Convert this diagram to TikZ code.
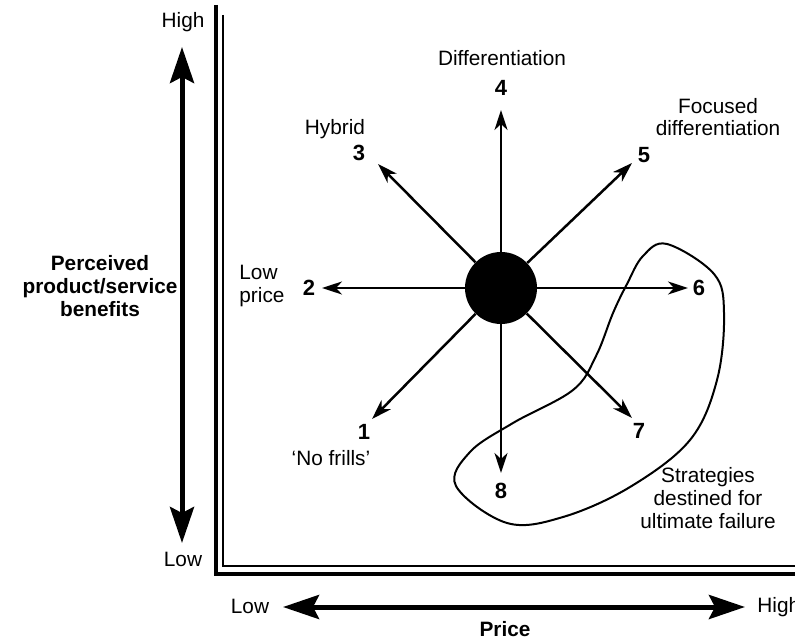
\documentclass[tikz,border=0pt]{standalone}
\usepackage{fontspec}
\setmainfont{Liberation Sans}
\usetikzlibrary{arrows.meta}
\begin{document}
\begin{tikzpicture}[x=0.5pt,y=-0.5pt,
 lbl/.style={font=\fontsize{10.4}{11.3}\selectfont, inner sep=0pt, align=center},
 blbl/.style={font=\fontsize{10.4}{11.3}\selectfont\bfseries, inner sep=0pt, align=center},
 num/.style={font=\fontsize{11}{13}\selectfont\bfseries, inner sep=0pt},
 ray/.style={line width=1.25pt, -{Stealth[length=10pt,width=6.5pt,inset=3pt]}},
 big/.style={line width=2.5pt, {Stealth[length=18pt,width=12pt,inset=3pt]}-{Stealth[length=18pt,width=12pt,inset=3pt]}},
 hub/.style={circle, fill=black, minimum size=36pt, inner sep=0pt},
 blob/.style={line width=1pt},
]
\useasboundingbox (0,0) rectangle (795,640);
% axes (double L)
\draw[line width=2pt] (216,5) -- (216,574) -- (800,574);
\draw[line width=1pt] (223,15) -- (223,566) -- (800,566);
% centre
\node[hub] (c) at (501,288) {};
% tips
\coordinate (t1) at (372,419);
\coordinate (t2) at (322,288);
\coordinate (t3) at (378,164);
\coordinate (t4) at (501,110);
\coordinate (t5) at (632,163);
\coordinate (t6) at (688,288);
\coordinate (t7) at (632,418);
\coordinate (t8) at (501,473);
\foreach \i in {1,...,8} \draw[ray] (c) -- (t\i);
% numbers
\node[num] (n1) at (364,432) {1};
\node[num] (n2) at (309,288) {2};
\node[num] (n3) at (359,153) {3};
\node[num] (n4) at (501,88) {4};
\node[num] (n5) at (644,155) {5};
\node[num] (n6) at (699,288) {6};
\node[num] (n7) at (639,431) {7};
\node[num] (n8) at (501,491) {8};
% labels
\node[lbl] (l1) at (331,458) {‘No frills’};
\node[lbl, align=left, anchor=west] (l2) at (239,286) {Low\\price};
\node[lbl] (l3) at (335,129) {Hybrid};
\node[lbl] (l4) at (502,58) {Differentiation};
\node[lbl] (l5) at (718,117) {Focused\\differentiation};
\node[lbl] (lf) at (708,498) {Strategies\\destined for\\ultimate failure};
% failure blob
\draw[blob] plot[smooth cycle, tension=0.6] coordinates {
 (667,244) (714,274) (724,313) (717,380) (690,440) (630,487) (563,517)
 (507,523) (456,486) (470,452) (513,423) (573,390) (596,356) (613,313)
 (627,284) (643,256)};
% vertical axis arrow
\node[lbl] (vh) at (183,22) {High};
\node[lbl] (vl) at (183,559) {Low};
\coordinate (va) at (182,47);
\coordinate (vb) at (182,543);
\draw[big] (va) -- (vb);
\node[blbl] (vt) at (100,286) {Perceived\\product/service\\benefits};
% horizontal axis arrow
\node[lbl] (hl) at (250,606) {Low};
\node[lbl, anchor=west] (hh) at (757,607) {High};
\coordinate (ha) at (283,607);
\coordinate (hb) at (745,607);
\draw[big] (ha) -- (hb);
\node[blbl] (ht) at (505,629) {Price};
\end{tikzpicture}
\end{document}
